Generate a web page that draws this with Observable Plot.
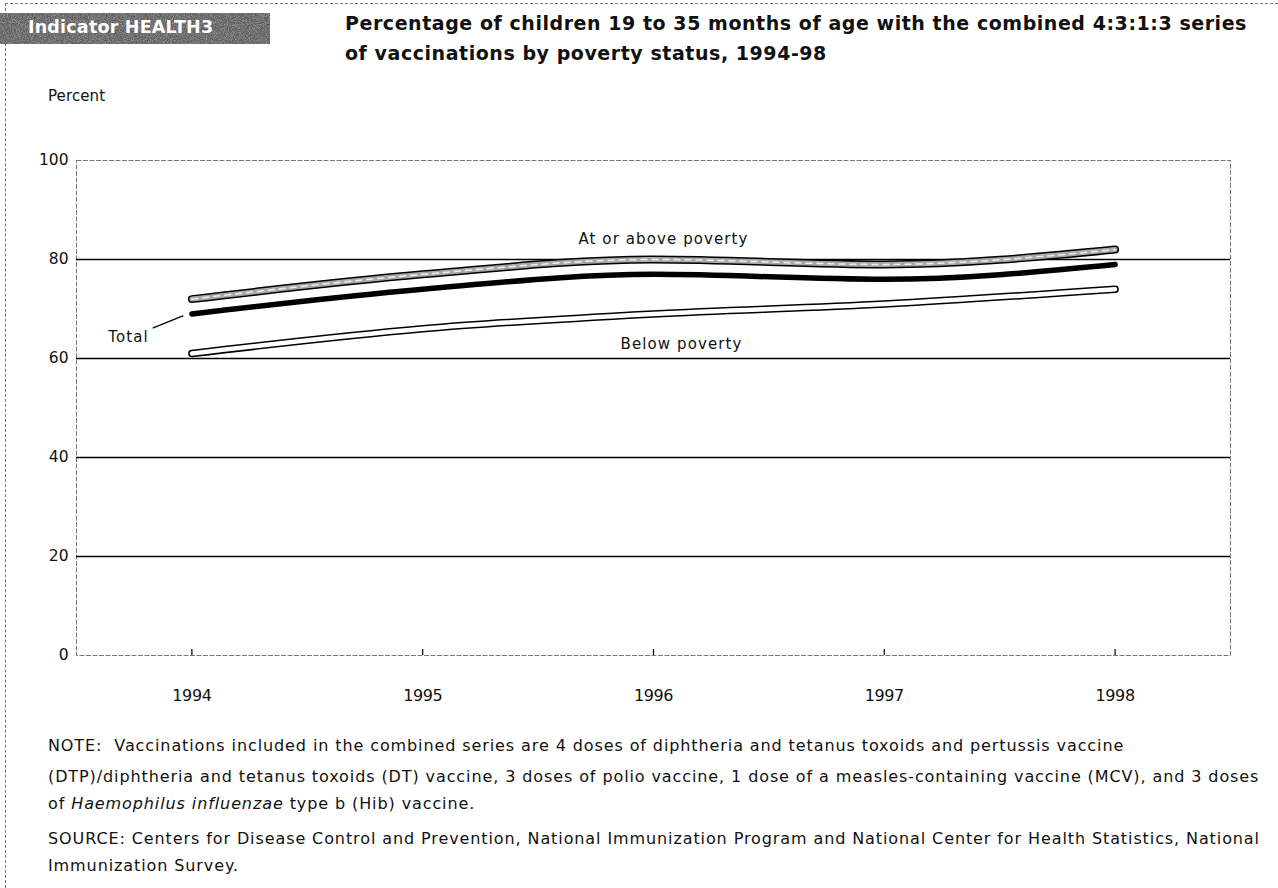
<!DOCTYPE html>
<html>
<head>
<meta charset="utf-8">
<script src="https://cdn.jsdelivr.net/npm/d3@7"></script>
<script src="https://cdn.jsdelivr.net/npm/@observablehq/plot@0.6"></script>
<style>
  html, body { margin: 0; padding: 0; background: #fff; }
  #page { position: relative; width: 1278px; height: 888px; overflow: hidden; font-family: "DejaVu Sans", sans-serif; color: #111; }
  #frameTop { position: absolute; left: 5px; top: 3px; width: 1273px; height: 0; border-top: 1px dashed #777; }
  #frameLeft { position: absolute; left: 5px; top: 3px; width: 0; height: 885px; border-left: 1px dashed #777; }
  #badge { position: absolute; left: 0; top: 13px; width: 270px; height: 31px; overflow: hidden; }
  #badge svg { position: absolute; left: 0; top: 0; }
  #badge span { position: absolute; left: 28px; top: 4px; color: #fff; font-weight: 700; font-size: 17.5px; letter-spacing: 0.2px; }
  #title { position: absolute; left: 345px; top: 8px; font-weight: 700; font-size: 19px; line-height: 30px; letter-spacing: 0.55px; }
  #ylab { position: absolute; left: 48px; top: 87px; font-size: 15px; letter-spacing: 0.1px; }
  #chart { position: absolute; left: 0; top: 140px; }
  .note { position: absolute; left: 48px; font-size: 16px; letter-spacing: 0.9px; }
</style>
</head>
<body>
<div id="page">
  <div id="frameTop"></div>
  <div id="frameLeft"></div>
  <div id="badge">
    <svg width="270" height="31">
      <filter id="nz"><feTurbulence type="fractalNoise" baseFrequency="0.95" numOctaves="2" seed="4"/><feColorMatrix type="saturate" values="0"/><feComponentTransfer><feFuncR type="discrete" tableValues="0.05 0.25 0.45 0.8"/><feFuncG type="discrete" tableValues="0.05 0.25 0.45 0.8"/><feFuncB type="discrete" tableValues="0.05 0.25 0.45 0.8"/></feComponentTransfer></filter>
      <rect width="270" height="31" fill="#4a4a4a"/>
      <rect width="270" height="31" filter="url(#nz)" opacity="0.95"/>
    </svg>
    <span>Indicator HEALTH3</span>
  </div>
  <div id="title">Percentage of children 19 to 35 months of age with the combined 4:3:1:3 series<br>of vaccinations by poverty status, 1994-98</div>
  <div id="ylab">Percent</div>
  <div id="chart"></div>
  <div class="note" style="top:730px;line-height:31px">NOTE:&nbsp; Vaccinations included in the combined series are 4 doses of diphtheria and tetanus toxoids and pertussis vaccine<br>(DTP)/diphtheria and tetanus toxoids (DT) vaccine, 3 doses of polio vaccine, 1 dose of a measles-containing vaccine (MCV), and 3 doses<br><span style="position:relative;top:-4px">of <i>Haemophilus influenzae</i> type b (Hib) vaccine.</span></div>
  <div class="note" style="top:825px;line-height:27px">SOURCE: Centers for Disease Control and Prevention, National Immunization Program and National Center for Health Statistics, National<br>Immunization Survey.</div>
</div>
<script>
const years = [1994, 1995, 1996, 1997, 1998];
const aboveValues = [72, 77, 80, 79, 82];
const totalValues = [69, 74, 77, 76, 79];
const belowValues = [61, 66, 69, 71, 74];
const yTicks = [0, 20, 40, 60, 80, 100];
const gridValues = [20, 40, 60, 80];

const above = years.map((y, i) => ({year: y, value: aboveValues[i]}));
const total = years.map((y, i) => ({year: y, value: totalValues[i]}));
const below = years.map((y, i) => ({year: y, value: belowValues[i]}));

const curve = "monotone-x";
const leader = {draw(ctx, l) { ctx.moveTo(0, 0); ctx.lineTo(0, -l); }};

const chart = Plot.plot({
  width: 1278,
  height: 580,
  marginLeft: 76,
  marginRight: 48,
  marginTop: 20,
  marginBottom: 65,
  style: {fontFamily: "'DejaVu Sans', sans-serif", fontSize: "15px", color: "#111", background: "transparent"},
  x: {domain: [1993.5, 1998.5], label: null},
  y: {domain: [0, 100], label: null},
  marks: [
    Plot.frame({stroke: "#555", strokeWidth: 0.8, strokeDasharray: "5,1.5"}),
    Plot.ruleY(gridValues, {stroke: "#000", strokeWidth: 1.6}),
    Plot.axisY({ticks: yTicks, tickSize: 0, tickPadding: 8, label: null, fontSize: 15.5}),
    Plot.axisX({ticks: years, tickSize: 0, tickPadding: 34, tickFormat: d => String(d), label: null, fontSize: 16}),
    Plot.axisX({ticks: years, tickSize: -6, tickFormat: () => "", label: null, stroke: "#000", strokeWidth: 1.2}),
    // Below poverty: white line outlined in black
    Plot.line(below, {x: "year", y: "value", curve, stroke: "#000", strokeWidth: 7.5, strokeLinecap: "round"}),
    Plot.line(below, {x: "year", y: "value", curve, stroke: "#fff", strokeWidth: 4.5, strokeLinecap: "round"}),
    // At or above poverty: gray line outlined in black
    Plot.line(above, {x: "year", y: "value", curve, stroke: "#000", strokeWidth: 8, strokeLinecap: "round"}),
    Plot.line(above, {x: "year", y: "value", curve, stroke: "#a8a8a8", strokeWidth: 5, strokeLinecap: "round"}),
    Plot.line(above, {x: "year", y: "value", curve, stroke: "#eee", strokeWidth: 1.5, strokeDasharray: "6,5", strokeLinecap: "round"}),
    // Total: solid black
    Plot.line(total, {x: "year", y: "value", curve, stroke: "#000", strokeWidth: 5.5, strokeLinecap: "round"}),
    // Labels
    Plot.text([above[2]], {x: "year", y: "value", text: () => "At or above poverty", dx: 10, dy: -20, fontSize: 15, fill: "#111"}),
    Plot.text([below[2]], {x: "year", y: "value", text: () => "Below poverty", dx: 28, dy: 30, fontSize: 15, fill: "#111"}),
    Plot.text([total[0]], {x: "year", y: "value", text: () => "Total", dx: -43, dy: 23, textAnchor: "end", fontSize: 15, fill: "#111"}),
    Plot.vector([total[0]], {x: "year", y: "value", dx: -9, dy: 2, length: 32, rotate: 248, anchor: "start", shape: leader, stroke: "#000", strokeWidth: 1.3})
  ]
});
chart.querySelectorAll("g[aria-label='text'] text").forEach(t => t.setAttribute("letter-spacing", "1.1"));
chart.querySelectorAll("g[aria-label='x-axis tick label']").forEach(g => g.setAttribute("letter-spacing", "-0.4"));
document.getElementById("chart").appendChild(chart);
</script>
</body>
</html>
